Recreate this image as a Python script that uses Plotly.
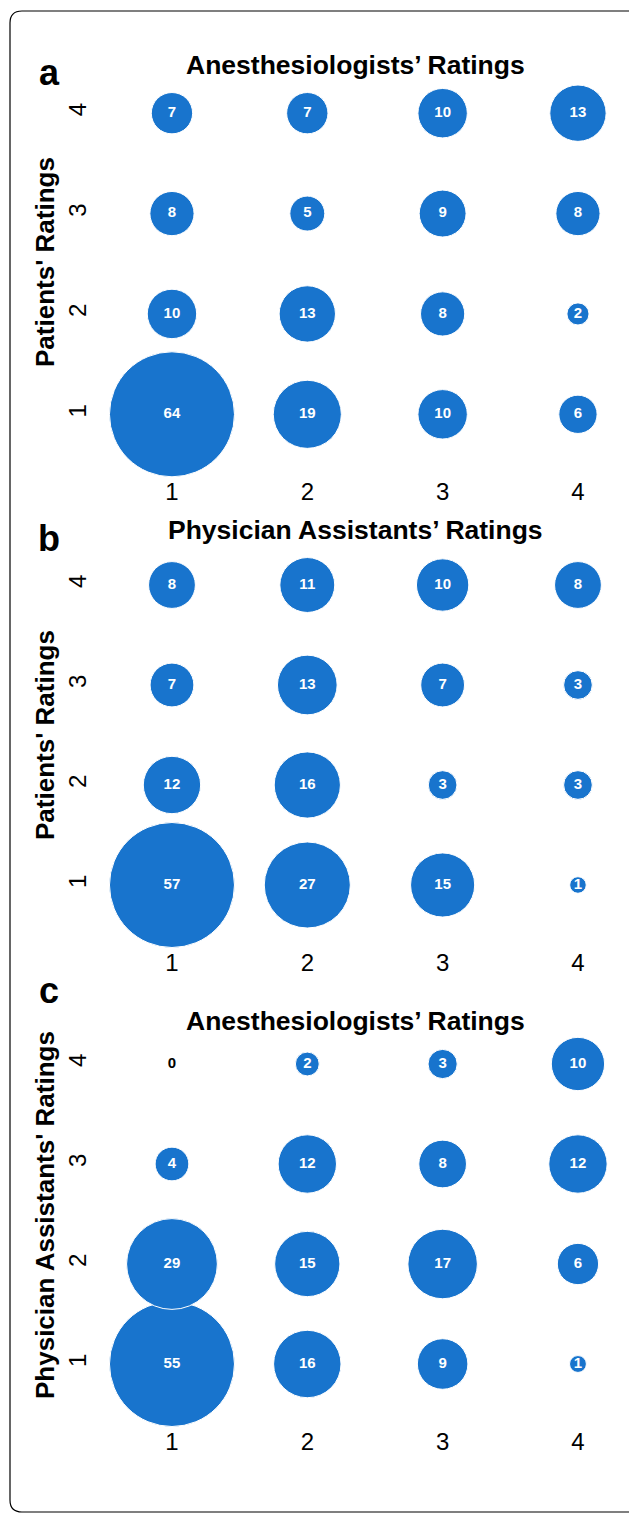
import plotly.graph_objects as go

# ---- data ----
rating_levels = [1, 2, 3, 4]
tick_labels = ["1", "2", "3", "4"]

# rows: y rating 1..4, columns: x rating 1..4
panel_a_counts = [
    [64, 19, 10, 6],
    [10, 13, 8, 2],
    [8, 5, 9, 8],
    [7, 7, 10, 13],
]
panel_b_counts = [
    [57, 27, 15, 1],
    [12, 16, 3, 3],
    [7, 13, 7, 3],
    [8, 11, 10, 8],
]
panel_c_counts = [
    [55, 16, 9, 1],
    [29, 15, 17, 6],
    [4, 12, 8, 12],
    [0, 2, 3, 10],
]

panel_letters = ["a", "b", "c"]
panel_titles = ["Anesthesiologists’ Ratings", "Physician Assistants’ Ratings", "Anesthesiologists’ Ratings"]
y_titles = ["Patients' Ratings", "Patients' Ratings", "Physician Assistants' Ratings"]

# ---- layout geometry (pixels) ----
W, H = 629, 1514
BLUE = "#1874CD"
FONT = "Liberation Sans, Arial, Helvetica, sans-serif"
MAX_D = 125.0  # diameter of largest bubble in each panel


def px_x(p):
    return p / W


def px_y(p):
    return 1 - p / H


x_domain = [104.3 / W, 1.0]
x_range = [0.5, 0.5 + (W - 104.3) / 135.33]

# y pixel extents (bottom, top) for range [0.5, 4.5]
y_pix = [(464.5, 63.0), (935.0, 535.0), (1414.0, 1014.0)]
title_y = [65, 530, 1021]
letter_y = [72, 539, 990]
ytitle_y = [262, 735, 1215]

fig = go.Figure()
panels = [panel_a_counts, panel_b_counts, panel_c_counts]

for i, counts in enumerate(panels):
    xs, ys, vals = [], [], []
    for r, row in enumerate(counts):
        for c, v in enumerate(row):
            xs.append(rating_levels[c])
            ys.append(rating_levels[r])
            vals.append(v)
    vmax = max(vals)
    sizeref = 2.0 * vmax / (MAX_D ** 2)
    suffix = "" if i == 0 else str(i + 1)
    fig.add_trace(go.Scatter(
        x=xs, y=ys,
        mode="markers+text",
        text=["<b>%d</b>" % v for v in vals],
        textposition="middle center",
        textfont=dict(family=FONT, size=15,
                      color=["black" if v == 0 else "white" for v in vals]),
        marker=dict(size=vals, sizemode="area", sizeref=sizeref,
                    color=BLUE, opacity=1,
                    line=dict(color="white", width=1)),
        cliponaxis=False,
        hoverinfo="skip",
        showlegend=False,
        xaxis="x" + suffix, yaxis="y" + suffix,
    ))

    bot, top = y_pix[i]
    axis_common = dict(showgrid=False, zeroline=False, showline=False,
                       tickmode="array", tickvals=rating_levels, ticktext=tick_labels,
                       ticks="outside", tickcolor="rgba(0,0,0,0)",
                       tickfont=dict(family=FONT, size=24, color="black"),
                       fixedrange=True, automargin=False)
    fig.layout["xaxis" + suffix] = dict(axis_common, domain=x_domain, range=x_range,
                                        anchor="y" + suffix, ticklen=6)
    fig.layout["yaxis" + suffix] = dict(axis_common, domain=[px_y(bot), px_y(top)],
                                        range=[0.5, 4.5], anchor="x" + suffix,
                                        tickangle=-90, ticklen=8)

    fig.add_annotation(text="<b>%s</b>" % panel_titles[i], x=px_x(355), y=px_y(title_y[i]),
                       xref="paper", yref="paper", showarrow=False,
                       xanchor="center", yanchor="middle",
                       font=dict(family=FONT, size=26.5, color="black"))
    fig.add_annotation(text="<b>%s</b>" % panel_letters[i], x=px_x(49), y=px_y(letter_y[i]),
                       xref="paper", yref="paper", showarrow=False,
                       xanchor="center", yanchor="middle",
                       font=dict(family=FONT, size=36, color="black"))
    fig.add_annotation(text="<b>%s</b>" % y_titles[i], x=px_x(45), y=px_y(ytitle_y[i]),
                       xref="paper", yref="paper", showarrow=False, textangle=-90,
                       xanchor="center", yanchor="middle",
                       font=dict(family=FONT, size=26, color="black"))

# rounded frame (right side runs off the page)
r = 12
x0, x1 = 10, 645
y0, y1 = 11, 1512
path = ("M {a},{b} L {c},{b} L {c},{d} L {e},{d} Q {f},{d} {f},{g} L {f},{h} Q {f},{b} {e},{b} Z").format(
    a=px_x(x0 + r), b=px_y(y0), c=px_x(x1), d=px_y(y1), e=px_x(x0 + r), f=px_x(x0),
    g=px_y(y1 - r), h=px_y(y0 + r))
fig.add_shape(type="path", path=path, xref="paper", yref="paper",
              line=dict(color="black", width=1.2), fillcolor="rgba(0,0,0,0)", layer="below")

fig.update_layout(width=W, height=H, margin=dict(l=0, r=0, t=0, b=0),
                  paper_bgcolor="white", plot_bgcolor="white",
                  font=dict(family=FONT, color="black"))

fig.write_html("out.html", config={"displayModeBar": False},
               post_script="document.body.style.margin='0';document.body.style.overflow='hidden';")
